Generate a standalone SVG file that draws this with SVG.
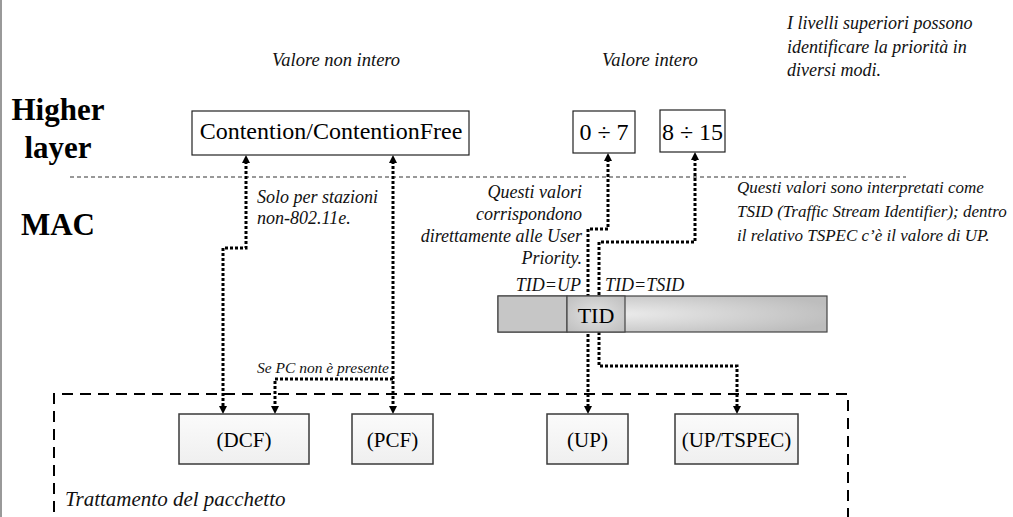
<svg xmlns="http://www.w3.org/2000/svg" width="1013" height="517" viewBox="0 0 1013 517">
<defs>
<style>
text{font-family:'Liberation Serif','Times New Roman',serif;fill:#000}
.it{font-style:italic;font-size:18px;fill:#111}
.big{font-weight:bold;font-size:31px;text-anchor:middle}
.hbox{fill:#fff;stroke:#222;stroke-width:1.2}
.lbox{fill:url(#lg);stroke:#3a3a3a;stroke-width:1.5}
.conn{fill:none;stroke:#000;stroke-width:3;stroke-dasharray:3 2}
.lbl{font-size:24px;text-anchor:middle}
.lbl2{font-size:21px;text-anchor:middle}
</style>
<marker id="ah" viewBox="0 0 8 8" refX="2" refY="4" markerWidth="8" markerHeight="8" markerUnits="userSpaceOnUse" orient="auto-start-reverse">
<path d="M0,0 L8,4 L0,8 z" fill="#000"/>
</marker>
<linearGradient id="lg" x1="0" y1="0" x2="0" y2="1">
<stop offset="0" stop-color="#fbfbfb"/>
<stop offset="1" stop-color="#efefef"/>
</linearGradient>
<radialGradient id="rg" cx="0.35" cy="0.5" r="0.7">
<stop offset="0" stop-color="#ececec"/>
<stop offset="1" stop-color="#bdbdbd"/>
</radialGradient>
<radialGradient id="tg" cx="0.5" cy="0.5" r="0.7">
<stop offset="0" stop-color="#e2e2e2"/>
<stop offset="1" stop-color="#bebebe"/>
</radialGradient>
</defs>

<line x1="1" y1="0" x2="1" y2="517" stroke="#777" stroke-width="1.5"/>

<g id="layer-labels">
<text class="big" x="58" y="120">Higher</text>
<text class="big" x="58" y="158">layer</text>
<text class="big" x="58" y="235">MAC</text>
</g>

<line id="layer-divider" x1="70" y1="177" x2="906" y2="177" stroke="#333" stroke-width="1" stroke-dasharray="4 3"/>

<g id="annotations">
<text class="it" x="272" y="66" style="font-size:18.5px">Valore non intero</text>
<text class="it" x="602" y="66" style="font-size:18.5px">Valore intero</text>
<text class="it" x="787" y="29">I livelli superiori possono</text>
<text class="it" x="787" y="53">identificare la priorità in</text>
<text class="it" x="787" y="76">diversi modi.</text>
<text class="it" x="257" y="203">Solo per stazioni</text>
<text class="it" x="257" y="224">non-802.11e.</text>
<g text-anchor="end">
<text class="it" x="582" y="198">Questi valori</text>
<text class="it" x="582" y="220">corrispondono</text>
<text class="it" x="582" y="242">direttamente alle User</text>
<text class="it" x="582" y="264">Priority.</text>
<text class="it" x="581" y="291">TID=UP</text>
<text class="it" x="389" y="373" style="font-size:15.5px">Se PC non è presente</text>
</g>
<g style="font-size:17px">
<text class="it" x="737" y="193" style="font-size:17px">Questi valori sono interpretati come</text>
<text class="it" x="737" y="217" style="font-size:17px">TSID (Traffic Stream Identifier); dentro</text>
<text class="it" x="737" y="241" style="font-size:17px">il relativo TSPEC c’è il valore di UP.</text>
</g>
<text class="it" x="605" y="291">TID=TSID</text>
</g>

<g id="mac-processing">
<path d="M54,530 V394 H848 V530" fill="none" stroke="#000" stroke-width="2" stroke-dasharray="11 7"/>
<text class="it" x="65" y="506" style="font-size:21px">Trattamento del pacchetto</text>
</g>

<g id="connectors">
<path class="conn" d="M246,161 V248 H223 V408" marker-start="url(#ah)" marker-end="url(#ah)"/>
<path class="conn" d="M393,161 V408" marker-start="url(#ah)" marker-end="url(#ah)"/>
<path class="conn" d="M393,379 H275 V408" marker-end="url(#ah)"/>
<path class="conn" d="M608,159 V229 H588 V408" marker-start="url(#ah)" marker-end="url(#ah)"/>
<path class="conn" d="M695,158 V242 H599 V366 H737 V408" marker-start="url(#ah)" marker-end="url(#ah)"/>
</g>

<g id="tid-field">
<rect x="498" y="296" width="329" height="36" fill="url(#rg)" stroke="#444" stroke-width="1.2"/>
<rect x="498" y="296" width="69" height="36" fill="#c6c6c6" stroke="#444" stroke-width="1.2"/>
<rect x="567" y="296" width="58" height="36" fill="url(#tg)" stroke="#444" stroke-width="1.2"/>
<text class="lbl" x="596" y="323" style="font-size:22px">TID</text>
</g>

<g id="contention">
<rect class="hbox" x="192" y="111" width="277" height="44"/>
<text class="lbl" x="331" y="139">Contention/ContentionFree</text>
</g>
<g id="up-range">
<rect class="hbox" x="573" y="111" width="62" height="42"/>
<text class="lbl" x="604" y="140">0 ÷ 7</text>
</g>
<g id="tsid-range">
<rect class="hbox" x="660" y="110" width="65" height="42"/>
<text class="lbl" x="692.5" y="140">8 ÷ 15</text>
</g>

<g id="dcf">
<rect class="lbox" x="179" y="414" width="130" height="50"/>
<text class="lbl2" x="244" y="447">(DCF)</text>
</g>
<g id="pcf">
<rect class="lbox" x="352" y="414" width="81" height="50"/>
<text class="lbl2" x="392.5" y="447">(PCF)</text>
</g>
<g id="up">
<rect class="lbox" x="547" y="414" width="81" height="50"/>
<text class="lbl2" x="587.5" y="447">(UP)</text>
</g>
<g id="uptspec">
<rect class="lbox" x="675" y="414" width="123" height="50"/>
<text class="lbl2" x="736.5" y="447">(UP/TSPEC)</text>
</g>
</svg>
